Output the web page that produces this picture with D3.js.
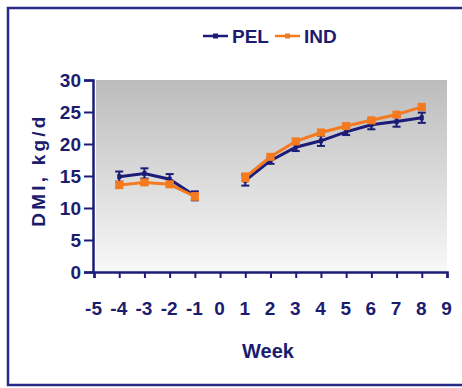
<!DOCTYPE html>
<html>
<head>
<meta charset="utf-8">
<script src="https://cdn.jsdelivr.net/npm/d3@7"></script>
<style>
  body { margin: 0; background: #fff; }
  text { font-family: Arial, "Liberation Sans", sans-serif; font-weight: bold; fill: #1c1c6e; }
</style>
</head>
<body>
<div id="chart"></div>
<script>
// weeks, with the gap at week 0
var weeks = [-4, -3, -2, -1, 1, 2, 3, 4, 5, 6, 7, 8]
var pel = [14.9, 15.4, 14.5, 11.9, 14.3, 17.4, 19.5, 20.5, 21.9, 23.0, 23.5, 24.1]
var pelErr = [0.8, 0.8, 0.8, 0.7, 0.8, 0.5, 0.6, 0.8, 0.5, 0.7, 0.8, 0.8]
var ind = [13.6, 14.0, 13.7, 11.8, 14.8, 18.0, 20.4, 21.8, 22.8, 23.7, 24.6, 25.8]
var indErr = [0.5, 0.4, 0.4, 0.5, 0.6, 0.4, 0.4, 0.4, 0.4, 0.4, 0.4, 0.4]
var xTicks = [-5, -4, -3, -2, -1, 0, 1, 2, 3, 4, 5, 6, 7, 8, 9]
var yTicks = [0, 5, 10, 15, 20, 25, 30]

var navy = "#1c1c78", orange = "#f47a20"
var W = 462, H = 388
var margin = {top: 80, right: 15, bottom: 116, left: 93},
    width = W - margin.left - margin.right,
    height = H - margin.top - margin.bottom

var x = d3.scaleLinear().domain([-5, 9]).range([1, width])
var y = d3.scaleLinear().domain([0, 30]).range([height, 0])

var root = d3.select("#chart").append("svg")
  .attr("width", W).attr("height", H)

// frame
root.append("rect")
  .attr("x", 8).attr("y", 8).attr("width", W + 10).attr("height", 377)
  .attr("fill", "none").attr("stroke", "#2a2a88").attr("stroke-width", 2.5)

var grad = root.append("defs").append("linearGradient")
  .attr("id", "bg").attr("x1", 0).attr("y1", 0).attr("x2", 0).attr("y2", 1)
grad.append("stop").attr("offset", "0%").attr("stop-color", "#bcbcbc")
grad.append("stop").attr("offset", "100%").attr("stop-color", "#f8f8f8")

var svg = root.append("g")
  .attr("transform", "translate(" + margin.left + "," + margin.top + ")")

svg.append("rect")
  .attr("x", 3).attr("y", 0).attr("width", width - 3).attr("height", height)
  .attr("fill", "url(#bg)")

var fmt = function(d) { return String(d) }
var xAxis = d3.axisBottom(x).tickValues(xTicks).tickFormat(fmt).tickSize(6).tickPadding(24)
var yAxis = d3.axisLeft(y).tickValues(yTicks).tickFormat(fmt).tickSize(9).tickPadding(3)

var gx = svg.append("g")
  .attr("transform", "translate(0," + height + ")")
  .call(xAxis)
var gy = svg.append("g").call(yAxis)

;[gx, gy].forEach(function(g) {
  g.select(".domain").attr("stroke", navy).attr("stroke-width", 2.5)
  g.selectAll(".tick line").attr("stroke", navy).attr("stroke-width", 2)
  g.selectAll(".tick text").attr("font-size", 19).style("fill", "#1c1c6e")
    .attr("font-family", "Arial, 'Liberation Sans', sans-serif")
    .attr("font-weight", "bold")
})
gx.selectAll(".tick text").attr("dx", "-0.05em")

svg.append("text")
  .attr("x", width / 2 - 2).attr("y", height + 86)
  .attr("text-anchor", "middle").attr("font-size", 20)
  .text("Week")

svg.append("text")
  .attr("transform", "translate(-48," + (height / 2 - 6) + ") rotate(-90)")
  .attr("text-anchor", "middle").attr("font-size", 19)
  .attr("letter-spacing", 3.2)
  .text("DMI, kg/d")

function seriesData(vals, errs) {
  return weeks.map(function(w, i) { return {w: w, v: vals[i], e: errs[i]} })
}

var line = d3.line().x(function(d) { return x(d.w) }).y(function(d) { return y(d.v) })

function drawSeries(data, color, marker) {
  var pre = data.filter(function(d) { return d.w < 0 })
  var post = data.filter(function(d) { return d.w > 0 })
  ;[pre, post].forEach(function(seg) {
    svg.append("path").datum(seg)
      .attr("d", line).attr("fill", "none")
      .attr("stroke", color).attr("stroke-width", 3)
  })
  var eb = svg.selectAll(null).data(data).enter().append("g").attr("stroke", color).attr("stroke-width", 2)
  eb.append("line")
    .attr("x1", function(d) { return x(d.w) }).attr("x2", function(d) { return x(d.w) })
    .attr("y1", function(d) { return y(d.v - d.e) }).attr("y2", function(d) { return y(d.v + d.e) })
  eb.append("line")
    .attr("x1", function(d) { return x(d.w) - 4 }).attr("x2", function(d) { return x(d.w) + 4 })
    .attr("y1", function(d) { return y(d.v - d.e) }).attr("y2", function(d) { return y(d.v - d.e) })
  eb.append("line")
    .attr("x1", function(d) { return x(d.w) - 4 }).attr("x2", function(d) { return x(d.w) + 4 })
    .attr("y1", function(d) { return y(d.v + d.e) }).attr("y2", function(d) { return y(d.v + d.e) })
  if (marker == "square") {
    svg.selectAll(null).data(data).enter().append("rect")
      .attr("x", function(d) { return x(d.w) - 4 }).attr("y", function(d) { return y(d.v) - 4 })
      .attr("width", 8).attr("height", 8).attr("fill", color)
  } else {
    svg.selectAll(null).data(data).enter().append("rect")
      .attr("x", function(d) { return x(d.w) - 2 }).attr("y", function(d) { return y(d.v) - 2.5 })
      .attr("width", 4).attr("height", 5).attr("fill", color)
  }
}

drawSeries(seriesData(pel, pelErr), navy, "dash")
drawSeries(seriesData(ind, indErr), orange, "square")

// legend
var legend = root.append("g").attr("transform", "translate(203,36)")
var items = [{name: "PEL", color: navy, w: 0}, {name: "IND", color: orange, w: 72}]
items.forEach(function(it) {
  var g = legend.append("g").attr("transform", "translate(" + it.w + ",0)")
  g.append("line").attr("x1", 0).attr("x2", 25).attr("y1", 0).attr("y2", 0)
    .attr("stroke", it.color).attr("stroke-width", 2.5)
  g.append("rect").attr("x", 10).attr("y", -2.5).attr("width", 5).attr("height", 5).attr("fill", it.color)
  g.append("text").attr("x", 29).attr("y", 7).attr("font-size", 19).text(it.name)
})
</script>
</body>
</html>
